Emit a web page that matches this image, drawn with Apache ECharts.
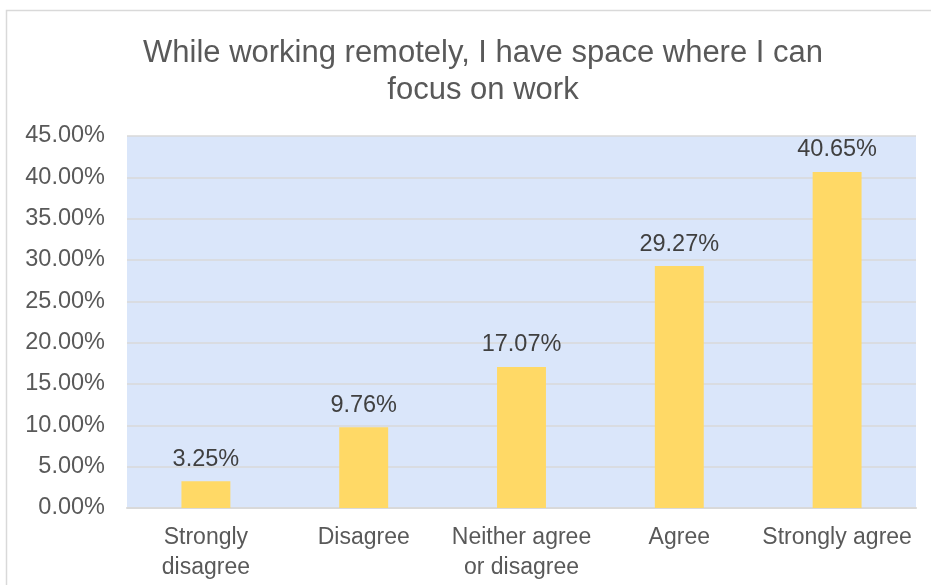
<!DOCTYPE html>
<html>
<head>
<meta charset="utf-8">
<script src="https://cdn.jsdelivr.net/npm/echarts@6/dist/echarts.min.js"></script>
<style>
  html, body { margin: 0; padding: 0; background: #ffffff; }
  #chart { width: 931px; height: 585px; }
</style>
</head>
<body>
<div id="chart"></div>
<script>
// Survey responses (% of respondents)
const categories = ['Strongly\ndisagree', 'Disagree', 'Neither agree\nor disagree', 'Agree', 'Strongly agree'];
const values = [3.25, 9.76, 17.07, 29.27, 40.65];
const yTicks = { min: 0, max: 45, interval: 5 };

const FONT = '"Liberation Sans", Arial, sans-serif';

const chart = echarts.init(document.getElementById('chart'), null, { renderer: 'canvas' });

chart.setOption({
  backgroundColor: '#ffffff',
  animation: false,
  title: {
    text: 'While working remotely, I have space where I can\nfocus on work',
    left: 478,
    top: 30,
    textAlign: 'center',
    textStyle: {
      fontFamily: FONT,
      fontSize: 31,
      fontWeight: 'normal',
      color: '#595959',
      lineHeight: 37
    }
  },
  graphic: [{
    type: 'rect',
    shape: { x: 6.5, y: 10.5, width: 960, height: 620 },
    style: { fill: 'none', stroke: '#D9D9D9', lineWidth: 1.5 },
    silent: true
  }],
  grid: {
    left: 127,
    right: 15,
    top: 136,
    bottom: 77,
    show: true,
    backgroundColor: '#DAE6FA',
    borderWidth: 0
  },
  xAxis: {
    type: 'category',
    data: categories,
    axisLine: { show: true, lineStyle: { color: '#D9D9D9', width: 2 } },
    axisTick: { show: false },
    axisLabel: {
      fontFamily: FONT,
      fontSize: 23,
      color: '#595959',
      lineHeight: 30,
      margin: 15,
      interval: 0
    }
  },
  yAxis: {
    type: 'value',
    min: yTicks.min,
    max: yTicks.max,
    interval: yTicks.interval,
    axisLine: { show: false },
    axisTick: { show: false },
    splitLine: { lineStyle: { color: '#D9D9D9', width: 1.5 } },
    axisLabel: {
      fontFamily: FONT,
      fontSize: 23.5,
      color: '#595959',
      margin: 22,
      formatter: v => v.toFixed(2) + '%'
    }
  },
  series: [{
    type: 'bar',
    data: values,
    barWidth: '31%',
    itemStyle: { color: '#FFD966' },
    label: {
      show: true,
      position: 'top',
      distance: 10,
      fontFamily: FONT,
      fontSize: 23.5,
      color: '#404040',
      formatter: p => p.value.toFixed(2) + '%'
    }
  }]
});
</script>
</body>
</html>
